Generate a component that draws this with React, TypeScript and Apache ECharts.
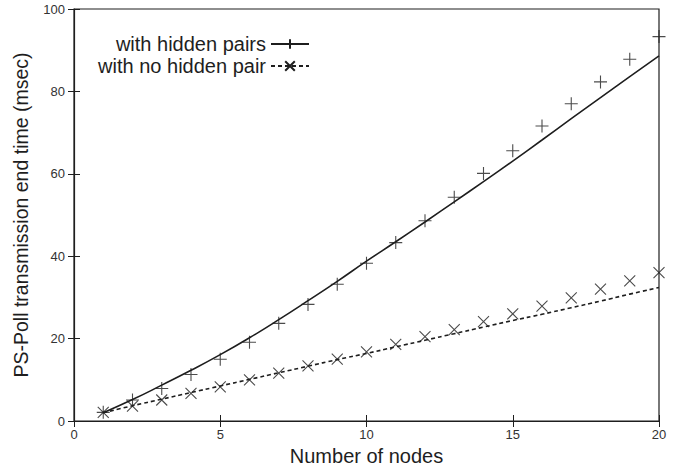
import React, { useEffect, useRef } from "react";
import * as echarts from "echarts";

const nodes = [1, 2, 3, 4, 5, 6, 7, 8, 9, 10, 11, 12, 13, 14, 15, 16, 17, 18, 19, 20];
const hiddenSim = [2.1, 5.1, 7.9, 11.3, 15.0, 19.1, 23.7, 28.3, 33.2, 38.3, 43.3, 48.6, 54.3, 60.1, 65.6, 71.6, 77.0, 82.3, 87.8, 93.3];
const hiddenModel = [2.0, 5.2, 8.7, 12.3, 16.1, 20.2, 24.6, 29.2, 33.9, 38.8, 43.5, 48.3, 53.2, 58.1, 63.1, 68.2, 73.4, 78.5, 83.6, 88.6];
const noHiddenSim = [2.1, 3.6, 5.1, 6.7, 8.3, 10.0, 11.6, 13.4, 15.0, 16.8, 18.6, 20.5, 22.2, 24.1, 26.0, 27.9, 29.9, 32.0, 34.0, 36.0];
const noHiddenModel = [2.0, 3.7, 5.3, 6.9, 8.5, 10.1, 11.7, 13.3, 14.9, 16.4, 18.0, 19.6, 21.2, 22.8, 24.4, 25.9, 27.5, 29.1, 30.8, 32.4];
const xTicks = [0, 5, 10, 15, 20];
const yTicks = [0, 20, 40, 60, 80, 100];

const PLUS = "path://M0,5 L10,5 M5,0 L5,10";
const CROSS = "path://M0,0 L10,10 M10,0 L0,10";
const INK = "#1e1e1e";
const FONT = "Liberation Sans";

export default function App() {
  const ref = useRef<HTMLDivElement>(null);
  useEffect(() => {
    if (!ref.current) return;
    const chart = echarts.init(ref.current, null, { renderer: "svg" });
    const pair = (xs: number[], ys: number[]) => xs.map((x, i) => [x, ys[i]]);
    const markerStyle = { color: "rgba(0,0,0,0)", borderColor: INK, borderWidth: 1.1 };
    const legendCommon = {
      right: 371, align: "right", itemWidth: 38, itemHeight: 12, itemGap: 4,
      textStyle: { fontFamily: FONT, fontSize: 20, color: INK },
    };
    chart.setOption({
      animation: false,
      backgroundColor: "#ffffff",
      textStyle: { fontFamily: FONT, color: INK },
      grid: {
        left: 74, right: 27, top: 9, bottom: 46,
        containLabel: false, outerBoundsMode: "none",
        show: true, borderColor: INK, borderWidth: 1.2, backgroundColor: "transparent",
      },
      legend: [
        { ...legendCommon, data: ["with hidden pairs"], top: 29 },
        { ...legendCommon, data: ["with no hidden pair"], top: 51 },
      ],
      xAxis: [
        {
          type: "value", min: xTicks[0], max: xTicks[xTicks.length - 1], interval: 5,
          name: "Number of nodes", nameLocation: "middle", nameGap: 25,
          nameTextStyle: { fontSize: 20, color: INK, fontFamily: FONT },
          axisLine: { show: true, lineStyle: { color: INK, width: 1.2 } },
          axisTick: { show: true, inside: true, length: 6, lineStyle: { color: INK } },
          axisLabel: { fontSize: 13, color: "#333", margin: 7, fontFamily: FONT },
          splitLine: { show: false },
        },
        {
          type: "value", position: "top", min: 0, max: 20, interval: 5,
          axisLine: { show: false },
          axisTick: { show: true, inside: true, length: 6, lineStyle: { color: INK } },
          axisLabel: { show: false }, splitLine: { show: false },
        },
      ],
      yAxis: [
        {
          type: "value", min: yTicks[0], max: yTicks[yTicks.length - 1], interval: 20,
          name: "PS-Poll transmission end time (msec)", nameLocation: "middle", nameGap: 43,
          nameTextStyle: { fontSize: 19.5, color: INK, fontFamily: FONT },
          axisLine: { show: true, lineStyle: { color: INK, width: 1.2 } },
          axisTick: { show: true, inside: true, length: 6, lineStyle: { color: INK } },
          axisLabel: { fontSize: 13, color: "#333", margin: 9, fontFamily: FONT },
          splitLine: { show: false },
        },
        {
          type: "value", position: "right", min: 0, max: 100, interval: 20,
          axisLine: { show: false },
          axisTick: { show: true, inside: true, length: 6, lineStyle: { color: INK } },
          axisLabel: { show: false }, splitLine: { show: false },
        },
      ],
      series: [
        {
          name: "with hidden pairs", type: "line", data: pair(nodes, hiddenModel),
          smooth: true, showSymbol: false, symbol: PLUS, symbolSize: 13,
          itemStyle: markerStyle,
          lineStyle: { color: INK, width: 1.6, type: "solid" },
          silent: true,
        },
        {
          name: "with no hidden pair", type: "line", data: pair(nodes, noHiddenModel),
          smooth: true, showSymbol: false, symbol: CROSS, symbolSize: 11,
          itemStyle: markerStyle,
          lineStyle: { color: INK, width: 1.6, type: [4, 3] },
          silent: true,
        },
        {
          name: "sim hidden", type: "scatter", data: pair(nodes, hiddenSim),
          symbol: PLUS, symbolSize: 13, itemStyle: markerStyle, silent: true,
        },
        {
          name: "sim no hidden", type: "scatter", data: pair(nodes, noHiddenSim),
          symbol: CROSS, symbolSize: 11, itemStyle: markerStyle, silent: true,
        },
      ],
    });
    return () => chart.dispose();
  }, []);
  return <div ref={ref} style={{ width: 686, height: 467, position: "absolute", left: 0, top: 0 }} />;
}
